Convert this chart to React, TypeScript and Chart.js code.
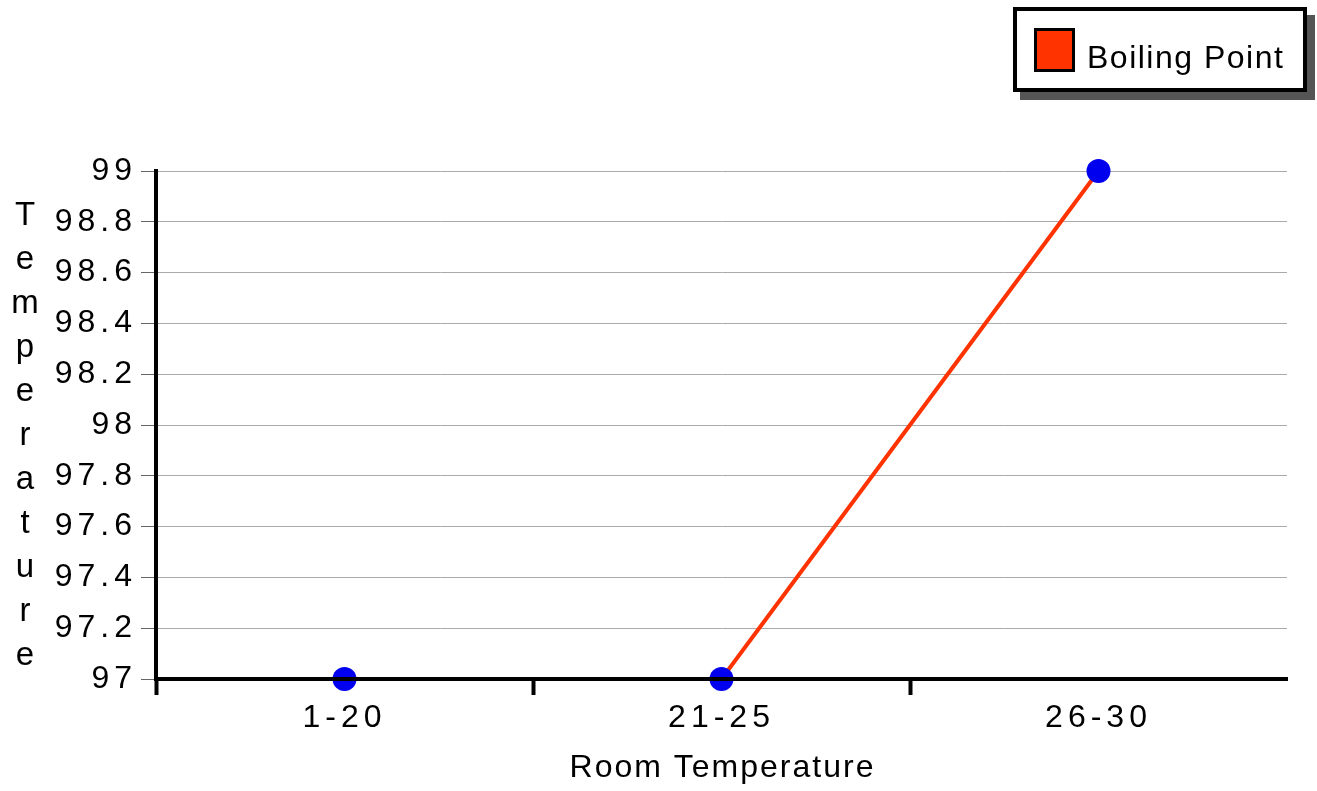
import { useEffect, useRef } from 'react';
import { Chart, registerables } from 'chart.js';

Chart.register(...registerables);

const categories = ['1-20', '21-25', '26-30'];
const boilingPoint = [97, 97, 99];
const yTickValues = [97, 97.2, 97.4, 97.6, 97.8, 98, 98.2, 98.4, 98.6, 98.8, 99];
const seriesLabel = 'Boiling Point';
const xTitle = 'Room Temperature';
const yTitle = 'Temperature';

const FONT = '"Liberation Sans", Arial, sans-serif';
const LINE_COLOR = '#ff3300';
const POINT_COLOR = '#0000ee';

const decorPlugin = {
  id: 'decor',
  beforeDraw(chart: any) {
    (chart.ctx as any).letterSpacing = '5px';
  },
  afterDraw(chart: any) {
    const ctx = chart.ctx as any;
    const area = chart.chartArea;
    ctx.save();
    ctx.fillStyle = '#000';
    ctx.font = `32px ${FONT}`;
    // x axis title
    ctx.letterSpacing = '2px';
    ctx.textAlign = 'center';
    ctx.textBaseline = 'middle';
    ctx.fillText(xTitle, (area.left + area.right) / 2 + 1, 768);
    // y axis title, stacked letters
    ctx.letterSpacing = '0px';
    ctx.font = `33px ${FONT}`;
    for (let i = 0; i < yTitle.length; i++) {
      ctx.fillText(yTitle[i], 25, 216 + i * 44);
    }
    // legend with shadow
    const ds = chart.data.datasets[0];
    ctx.fillStyle = '#555555';
    ctx.fillRect(1020, 15, 295, 85);
    ctx.fillStyle = '#ffffff';
    ctx.fillRect(1015, 9, 290, 81);
    ctx.lineWidth = 4;
    ctx.strokeStyle = '#000';
    ctx.strokeRect(1015, 9, 290, 81);
    ctx.fillStyle = ds.borderColor;
    ctx.fillRect(1035.5, 29.5, 38, 41);
    ctx.lineWidth = 3;
    ctx.strokeRect(1035.5, 29.5, 38, 41);
    ctx.fillStyle = '#000';
    ctx.font = `32px ${FONT}`;
    ctx.letterSpacing = '1.5px';
    ctx.textAlign = 'left';
    ctx.textBaseline = 'alphabetic';
    ctx.fillText(ds.label, 1087, 68);
    ctx.restore();
  },
};

export default function App() {
  const canvasRef = useRef<HTMLCanvasElement | null>(null);

  useEffect(() => {
    if (!canvasRef.current) return;
    const chart = new Chart(canvasRef.current, {
      type: 'line',
      data: {
        labels: categories,
        datasets: [
          {
            label: seriesLabel,
            data: boilingPoint,
            borderColor: LINE_COLOR,
            backgroundColor: LINE_COLOR,
            borderWidth: 4,
            tension: 0,
            fill: false,
            clip: false as any,
            pointRadius: 12,
            pointBorderWidth: 0,
            pointBackgroundColor: POINT_COLOR,
            pointBorderColor: POINT_COLOR,
          },
        ],
      },
      options: {
        animation: false,
        responsive: false,
        layout: { padding: { top: 171, right: 30, left: 0, bottom: 0 } },
        plugins: {
          legend: { display: false },
          tooltip: { enabled: false },
        },
        scales: {
          x: {
            type: 'category',
            offset: true,
            grid: {
              z: 1,
              offset: true,
              drawOnChartArea: false,
              drawTicks: true,
              tickLength: 16,
              tickWidth: 4,
              tickColor: (c: any) => (c.type === 'tick' ? '#000' : 'rgba(0,0,0,0)'),
            },
            border: { display: true, color: '#000', width: 4, z: 1 },
            ticks: {
              font: { family: FONT, size: 32 },
              color: '#000',
              padding: 4,
              maxRotation: 0,
              autoSkip: false,
            },
            afterFit: (s: any) => {
              s.height = 112;
            },
          },
          y: {
            type: 'linear',
            min: 97,
            max: 99,
            afterBuildTicks: (s: any) => {
              s.ticks = yTickValues.map((v) => ({ value: v }));
            },
            grid: {
              color: '#aaaaaa',
              lineWidth: 1,
              drawTicks: true,
              tickLength: 15,
              tickColor: '#666666',
              tickWidth: 1,
            },
            border: { display: true, color: '#000', width: 4 },
            ticks: {
              font: { family: FONT, size: 32 },
              color: '#000',
              padding: 4,
              callback: (v: any) => String(v),
            },
            afterFit: (s: any) => {
              s.width = 156;
            },
          },
        },
      },
      plugins: [decorPlugin],
    });
    return () => chart.destroy();
  }, []);

  return (
    <div style={{ position: 'absolute', left: 0, top: 0, width: 1317, height: 791 }}>
      <canvas ref={canvasRef} width={1317} height={791} />
    </div>
  );
}
